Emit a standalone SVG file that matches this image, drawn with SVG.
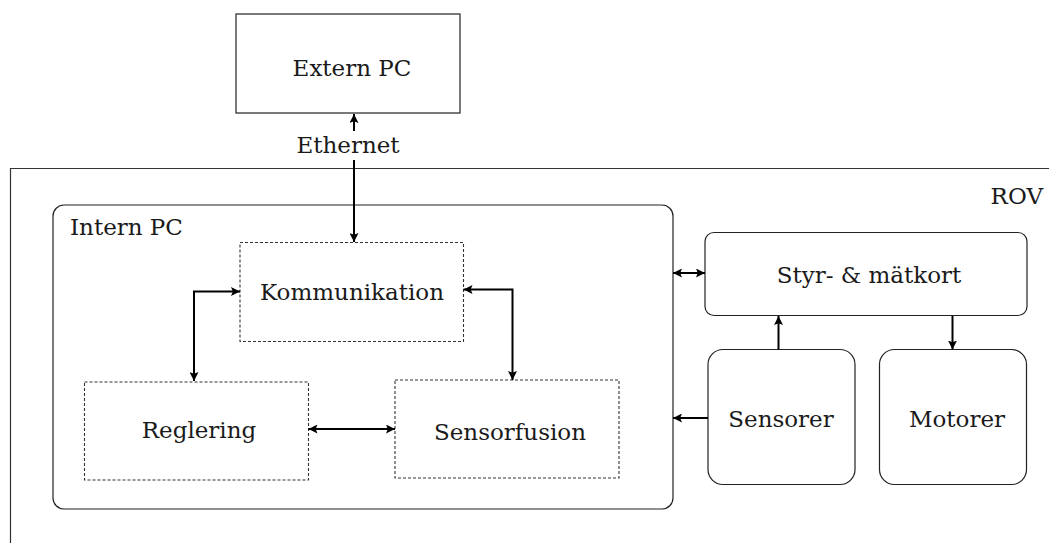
<svg xmlns="http://www.w3.org/2000/svg" width="1049" height="543" viewBox="0 0 1049 543">
<defs>
<marker id="ah" viewBox="0 0 10 10" refX="10" refY="5" markerWidth="9" markerHeight="9" markerUnits="userSpaceOnUse" orient="auto-start-reverse">
<path d="M0,0 L10,5 L0,10 L2,5 Z" fill="#000"/>
</marker>
</defs>
<style>
.box{fill:#fff;stroke:#222;stroke-width:1.2}
.dash{fill:none;stroke:#333;stroke-width:1.1;stroke-dasharray:3 2}
.lbl{font-family:"DejaVu Serif",serif;font-size:23px;fill:#1a1a1a}
.mid{text-anchor:middle}
.end{text-anchor:end}
.con{fill:none;stroke:#000;stroke-width:2}
</style>
<rect width="1049" height="543" fill="#fff"/>
<g id="rov">
<path d="M10.5,543 L10.5,168.5 L1049,168.5" fill="none" stroke="#333" stroke-width="1.2"/>
<text class="lbl end" x="1043" y="204">ROV</text>
</g>
<g id="externpc">
<rect class="box" x="236" y="14" width="224" height="99"/>
<text class="lbl mid" x="352" y="76">Extern PC</text>
</g>
<g id="internpc">
<rect class="box" x="53" y="205" width="620" height="304" rx="11"/>
<text class="lbl" x="70" y="235">Intern PC</text>
</g>
<g id="kommunikation">
<rect class="dash" x="240" y="242.5" width="223.5" height="99"/>
<text class="lbl mid" x="352" y="300">Kommunikation</text>
</g>
<g id="reglering">
<rect class="dash" x="84.5" y="382" width="224" height="98"/>
<text class="lbl mid" x="199" y="438">Reglering</text>
</g>
<g id="sensorfusion">
<rect class="dash" x="395" y="380" width="224" height="98"/>
<text class="lbl mid" x="510" y="440">Sensorfusion</text>
</g>
<g id="styr">
<rect class="box" x="705" y="232.5" width="322" height="83" rx="9"/>
<text class="lbl mid" x="869" y="283">Styr- &amp; mätkort</text>
</g>
<g id="sensorer">
<rect class="box" x="708" y="349.5" width="147" height="135" rx="15"/>
<text class="lbl mid" x="781" y="427">Sensorer</text>
</g>
<g id="motorer">
<rect class="box" x="879.5" y="349.5" width="147" height="135" rx="15"/>
<text class="lbl mid" x="957" y="427">Motorer</text>
</g>
<g id="ethernet">
<text class="lbl mid" x="348" y="153">Ethernet</text>
</g>
<g id="connectors">
<path class="con" d="M354,131 L354,114" marker-end="url(#ah)"/>
<path class="con" d="M354,160 L354,242" marker-end="url(#ah)"/>
<path class="con" d="M194,381 L194,291.5 L240,291.5" marker-start="url(#ah)" marker-end="url(#ah)"/>
<path class="con" d="M463.5,289.5 L512.5,289.5 L512.5,380" marker-start="url(#ah)" marker-end="url(#ah)"/>
<path class="con" d="M308.5,429 L395,429" marker-start="url(#ah)" marker-end="url(#ah)"/>
<path class="con" d="M673,273 L705,273" marker-start="url(#ah)" marker-end="url(#ah)"/>
<path class="con" d="M778.5,349.5 L778.5,316" marker-end="url(#ah)"/>
<path class="con" d="M952.5,316 L952.5,349.5" marker-end="url(#ah)"/>
<path class="con" d="M708,418 L673,418" marker-end="url(#ah)"/>
</g>
</svg>
